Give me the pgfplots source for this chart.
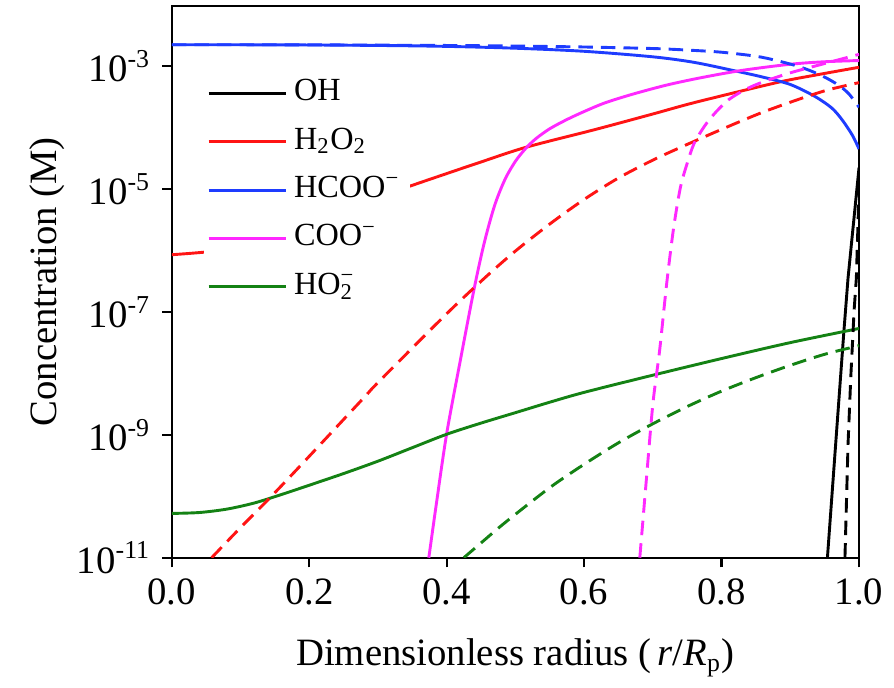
\documentclass[border=0pt]{standalone}
\usepackage{fontspec}
\setmainfont{Liberation Serif}
\usepackage{pgfplots}
\pgfplotsset{compat=1.18}

\definecolor{cblue}{RGB}{30,60,255}
\definecolor{cred}{RGB}{255,20,20}
\definecolor{cmag}{RGB}{255,40,255}
\definecolor{cgreen}{RGB}{20,130,20}

\begin{document}
\begin{tikzpicture}
\begin{axis}[
    scale only axis,
    width=213pt, height=171pt,
    ymode=log,
    xmin=0, xmax=1, ymin=1e-11, ymax=9.5e-3,
    xtick={0,0.2,0.4,0.6,0.8,1.0},
    xticklabels={0.0,0.2,0.4,0.6,0.8,1.0},
    ytick={1e-11,1e-9,1e-7,1e-5,1e-3},
    yticklabels={10\textsuperscript{-11},10\textsuperscript{-9},10\textsuperscript{-7},10\textsuperscript{-5},10\textsuperscript{-3}},
    minor tick length=0pt,
    tick pos=left, tick align=outside, major tick length=3pt,
    axis line style={line width=0.7pt}, every tick/.style={line width=0.7pt, black},
    tick label style={font=\fontsize{12}{14}\selectfont},
    label style={font=\fontsize{12}{14}\selectfont},
    xlabel={Dimensionless radius (\,\textit{r}/\textit{R}\textsubscript{p})},
    ylabel={Concentration (M)},
    xlabel style={yshift=-3.5pt},
    ylabel style={yshift=-3pt},
    every axis plot/.append style={line width=0.9pt},
    legend style={draw=none, fill=white, font=\fontsize{10}{12}\selectfont,
        at={(rel axis cs:0.046,0.891)}, anchor=north west, inner sep=1pt,
        row sep=0.5pt, nodes={inner sep=2pt, text height=7.5pt, text depth=3pt}},
    legend cell align=left,
    legend image code/.code={\draw[#1] (0pt,0pt) -- (24pt,0pt);},
]
% OH
\addplot[black] coordinates {(0.954,1e-11) (0.966,7.08e-10) (0.978,4.90e-8) (0.984,3.55e-7) (0.992,2.82e-6) (1.0,2.24e-5)};
\addlegendentry{OH}
% H2O2
\addplot[cred, smooth] coordinates {(0,8.51e-7) (0.054,9.55e-7) (0.1,1.175e-6) (0.15,1.66e-6) (0.2,2.51e-6) (0.25,4.07e-6) (0.3,6.92e-6) (0.335,1.0e-5) (0.4,1.78e-5) (0.45,2.75e-5) (0.516,4.79e-5) (0.617,9.33e-5) (0.7,1.66e-4) (0.762,2.57e-4) (0.88,5.37e-4) (0.94,7.24e-4) (1.0,9.55e-4)};
\addlegendentry{H\textsubscript{2}O\textsubscript{2}}
% HCOO-
\addplot[cblue, smooth] coordinates {(0,2.223e-3) (0.1,2.218e-3) (0.2,2.203e-3) (0.3,2.163e-3) (0.4,2.089e-3) (0.5,1.950e-3) (0.6,1.738e-3) (0.7,1.413e-3) (0.76,1.148e-3) (0.82,8.32e-4) (0.86,6.61e-4) (0.9,5.01e-4) (0.935,3.24e-4) (0.96,2.09e-4) (0.975,1.35e-4) (0.99,7.59e-5) (1.0,4.47e-5)};
\addlegendentry{HCOO\textsuperscript{−}}
% COO-
\addplot[cmag, smooth] coordinates {(0.374,1e-11) (0.385,7.59e-11) (0.40,1.047e-9) (0.42,1.66e-8) (0.44,2.40e-7) (0.455,1.38e-6) (0.47,5.50e-6) (0.485,1.445e-5) (0.50,2.82e-5) (0.515,4.57e-5) (0.53,6.61e-5) (0.55,9.55e-5) (0.575,1.35e-4) (0.60,1.82e-4) (0.63,2.51e-4) (0.67,3.47e-4) (0.72,4.90e-4) (0.77,6.46e-4) (0.83,8.51e-4) (0.90,1.07e-3) (0.95,1.175e-3) (1.0,1.23e-3)};
\addlegendentry{COO\textsuperscript{−}}
% HO2-
\addplot[cgreen, smooth] coordinates {(0,5.25e-11) (0.04,5.43e-11) (0.08,6.17e-11) (0.12,7.76e-11) (0.16,1.07e-10) (0.2,1.51e-10) (0.25,2.34e-10) (0.3,3.72e-10) (0.35,6.17e-10) (0.4,1.02e-9) (0.45,1.55e-9) (0.5,2.29e-9) (0.55,3.39e-9) (0.6,4.90e-9) (0.7,9.33e-9) (0.8,1.74e-8) (0.9,3.16e-8) (1.0,5.37e-8)};
\addlegendentry{HO\rlap{\textsuperscript{−}}\textsubscript{2}}

% dashed counterparts
\addplot[black, dash pattern=on 4.5pt off 2.5pt, forget plot] coordinates {(0.9795,1e-11) (0.984,7.08e-10) (0.988,8.71e-9) (0.9928,1.05e-7) (0.9961,3.55e-7) (1.0,1e-5)};
\addplot[cred, dash pattern=on 4.5pt off 2.5pt, smooth, forget plot] coordinates {(0.058,1e-11) (0.1,3.09e-11) (0.145,1e-10) (0.2,4.47e-10) (0.28,4.07e-9) (0.3,7.08e-9) (0.4,9.33e-8) (0.458,3.80e-7) (0.5,9.77e-7) (0.55,2.69e-6) (0.6,6.76e-6) (0.65,1.51e-5) (0.7,2.95e-5) (0.743,4.90e-5) (0.8,9.33e-5) (0.858,1.74e-4) (0.91,2.82e-4) (0.954,4.07e-4) (1.0,5.37e-4)};
\addplot[cblue, dash pattern=on 4.5pt off 2.5pt, smooth, forget plot] coordinates {(0,2.223e-3) (0.2,2.213e-3) (0.4,2.163e-3) (0.5,2.113e-3) (0.6,2.042e-3) (0.7,1.928e-3) (0.75,1.82e-3) (0.8,1.679e-3) (0.85,1.445e-3) (0.88,1.23e-3) (0.91,1.0e-3) (0.93,8.32e-4) (0.95,6.61e-4) (0.97,4.90e-4) (0.985,3.55e-4) (1.0,2.14e-4)};
\addplot[cmag, dash pattern=on 4.5pt off 2.5pt, smooth, forget plot] coordinates {(0.681,1e-11) (0.69,1.585e-10) (0.70,3.16e-9) (0.71,2.45e-8) (0.72,2.82e-7) (0.73,2.24e-6) (0.74,1.047e-5) (0.75,2.63e-5) (0.76,5.50e-5) (0.775,1.047e-4) (0.79,1.70e-4) (0.81,2.82e-4) (0.835,4.17e-4) (0.86,5.50e-4) (0.90,7.76e-4) (0.95,1.10e-3) (1.0,1.55e-3)};
\addplot[cgreen, dash pattern=on 4.5pt off 2.5pt, smooth, forget plot] coordinates {(0.425,1e-11) (0.45,1.74e-11) (0.487,3.89e-11) (0.55,1.38e-10) (0.6,3.31e-10) (0.65,7.41e-10) (0.7,1.51e-9) (0.75,2.88e-9) (0.8,5.13e-9) (0.85,8.51e-9) (0.9,1.35e-8) (0.95,2.04e-8) (1.0,2.82e-8)};

\coordinate (bl) at (rel axis cs:-0.25,-0.23);
\coordinate (tr) at (rel axis cs:1.042,1.0108);
\end{axis}
\path (bl) rectangle (tr);
\end{tikzpicture}
\end{document}
